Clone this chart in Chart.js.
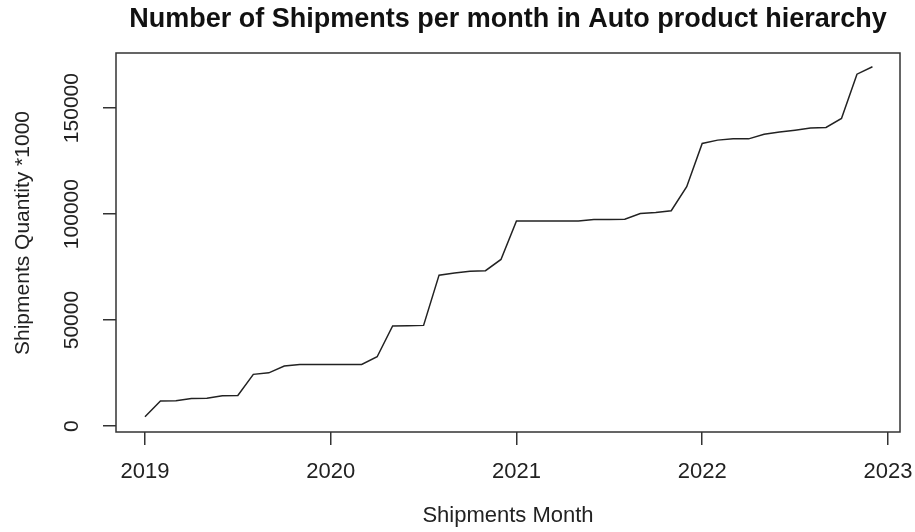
<!DOCTYPE html>
<html>
<head>
<meta charset="utf-8">
<script src="https://cdn.jsdelivr.net/npm/chart.js@4/dist/chart.umd.min.js"></script>
<style>
  body { margin: 0; background: #fff; }
  #wrap { width: 915px; height: 532px; }
</style>
</head>
<body>
<div id="wrap"><canvas id="grafico"></canvas></div>
<script>
// meses (categorias)
const meses = [
  "2019-01","2019-02","2019-03","2019-04","2019-05","2019-06","2019-07","2019-08","2019-09","2019-10","2019-11","2019-12",
  "2020-01","2020-02","2020-03","2020-04","2020-05","2020-06","2020-07","2020-08","2020-09","2020-10","2020-11","2020-12",
  "2021-01","2021-02","2021-03","2021-04","2021-05","2021-06","2021-07","2021-08","2021-09","2021-10","2021-11","2021-12",
  "2022-01","2022-02","2022-03","2022-04","2022-05","2022-06","2022-07","2022-08","2022-09","2022-10","2022-11","2022-12"
];

// quantidade de envios (*1000)
const quantidades = [
  4400, 11800, 11900, 13000, 13100, 14300, 14400, 24400, 25100, 28300, 29000, 29000,
  29000, 29000, 29100, 32700, 47200, 47300, 47500, 71200, 72200, 73000, 73300, 78600,
  96700, 96700, 96700, 96700, 96800, 97500, 97500, 97600, 100300, 100800, 101600, 112900,
  133300, 134900, 135500, 135500, 137700, 138700, 139600, 140600, 140900, 145100, 166000, 169500
];

const anosTicks = [2019, 2020, 2021, 2022, 2023];
const valoresTicks = [0, 50000, 100000, 150000];

const fonte = "'Liberation Sans', Arial, sans-serif";
Chart.defaults.font.family = fonte;
Chart.defaults.color = "#222";

// mes "AAAA-MM" -> ano decimal
function paraAno(m) {
  const [a, mm] = m.split("-").map(Number);
  return a + (mm - 1) / 12;
}

const pontos = meses.map((m, i) => ({ x: paraAno(m), y: quantidades[i] }));

// moldura + rotulos do eixo y girados (estilo R)
const pluginEstiloR = {
  id: "estiloR",
  afterDraw(chart) {
    const { ctx, chartArea } = chart;
    const escalaY = chart.scales.y;
    ctx.save();
    ctx.strokeStyle = "#333";
    ctx.lineWidth = 1.5;
    ctx.strokeRect(chartArea.left, chartArea.top, chartArea.right - chartArea.left, chartArea.bottom - chartArea.top);

    ctx.fillStyle = "#222";
    ctx.textAlign = "center";
    ctx.textBaseline = "middle";
    ctx.font = "21px " + fonte;
    valoresTicks.forEach(v => {
      ctx.save();
      ctx.translate(72, escalaY.getPixelForValue(v));
      ctx.rotate(-Math.PI / 2);
      ctx.fillText(String(v), 0, 0);
      ctx.restore();
    });

    // titulo do eixo y
    ctx.translate(23, 233);
    ctx.rotate(-Math.PI / 2);
    ctx.fillText("Shipments Quantity *1000", 0, 0);
    ctx.restore();
  }
};

new Chart(document.getElementById("grafico"), {
  type: "line",
  data: {
    datasets: [{
      data: pontos,
      borderColor: "#222",
      borderWidth: 1.5,
      pointRadius: 0,
      tension: 0,
      fill: false
    }]
  },
  options: {
    responsive: true,
    maintainAspectRatio: false,
    animation: false,
    layout: { padding: { right: 15 } },
    plugins: {
      legend: { display: false },
      tooltip: { enabled: false },
      title: {
        display: true,
        text: "Number of Shipments per month in Auto product hierarchy",
        fullSize: false,
        color: "#111",
        font: { size: 27, weight: "bold" },
        padding: { top: 3, bottom: 17.6 }
      }
    },
    scales: {
      x: {
        type: "linear",
        min: 2018.844,
        max: 2023.065,
        afterBuildTicks: s => { s.ticks = anosTicks.map(v => ({ value: v })); },
        afterFit: s => { s.height = 100; s.paddingRight = 0; s.paddingLeft = 0; },
        grid: { drawOnChartArea: false, drawTicks: true, tickLength: 13, color: "#333", lineWidth: 1.5 },
        border: { display: false },
        ticks: {
          padding: 14,
          font: { size: 22 },
          color: "#222",
          maxRotation: 0,
          callback: v => String(v)
        },
        title: {
          display: true,
          text: "Shipments Month",
          font: { size: 22 },
          color: "#222",
          padding: 3
        }
      },
      y: {
        min: -2800,
        max: 176000,
        afterBuildTicks: s => { s.ticks = valoresTicks.map(v => ({ value: v })); },
        afterFit: s => { s.width = 116; },
        grid: { drawOnChartArea: false, drawTicks: true, tickLength: 13, color: "#333", lineWidth: 1.5 },
        border: { display: false },
        ticks: { display: false }
      }
    }
  },
  plugins: [pluginEstiloR]
});
</script>
</body>
</html>
